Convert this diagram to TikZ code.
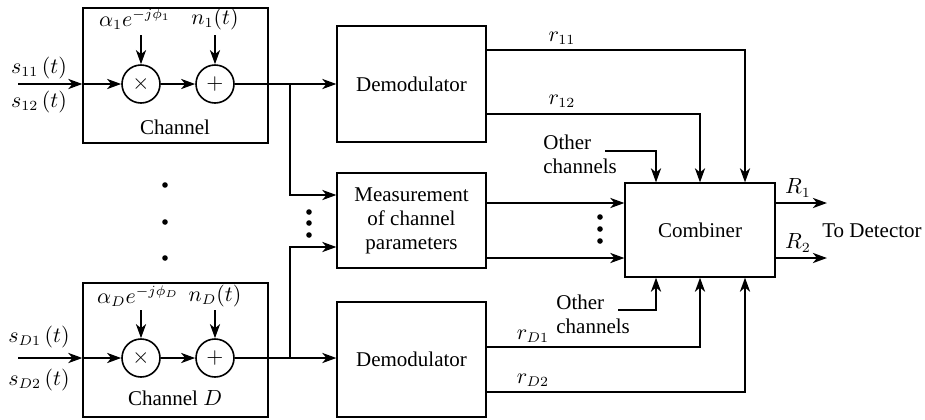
\documentclass[tikz,border=0pt]{standalone}
\usepackage{fontspec}
\setmainfont{Liberation Serif}
\usetikzlibrary{arrows.meta}
\begin{document}
\begin{tikzpicture}[x=0.5pt,y=-0.5pt,
  font=\fontsize{10.5}{12}\selectfont,
  blk/.style={draw, line width=0.6pt, inner sep=0pt, align=center},
  op/.style={draw, circle, line width=0.8pt, minimum size=19pt, inner sep=0pt},
  sig/.style={line width=1.4pt},
  arr/.style={sig, -{Stealth[length=7pt,width=5pt,inset=2pt]}},
  dot/.style={circle, fill, inner sep=0pt, minimum size=2.8pt},
  lbl/.style={inner sep=1pt}]
\useasboundingbox (0,0) rectangle (925,419);
% blocks
\node[blk, minimum width=92.5pt, minimum height=67.5pt] (ch1) at (175.5,75.5) {};
\node[blk, minimum width=92.5pt, minimum height=67pt] (chD) at (175.5,350) {};
\node[blk, minimum width=74.5pt, minimum height=58pt] (dem1) at (411.5,84) {Demodulator};
\node[blk, minimum width=74.5pt, minimum height=47.5pt] (meas) at (411.5,220.5) {Measurement\\of channel\\parameters};
\node[blk, minimum width=74.5pt, minimum height=57.5pt] (demD) at (411.5,359.5) {Demodulator};
\node[blk, minimum width=75pt, minimum height=47pt] (comb) at (700,230) {Combiner};
% operators
\node[op] (mul1) at (141,84) {$\times$};
\node[op] (add1) at (215,84) {$+$};
\node[op] (mulD) at (141,358) {$\times$};
\node[op] (addD) at (215,358) {$+$};
% texts
\node[lbl] (chlab1) at (175,127) {Channel};
\node[lbl] (chlabD) at (175,398) {Channel $D$};
\node[lbl] (s11) at (39,68) {$s_{11}\,(t)$};
\node[lbl] (s12) at (39,102) {$s_{12}\,(t)$};
\node[lbl] (sD1) at (39,337) {$s_{D1}\,(t)$};
\node[lbl] (sD2) at (39,380) {$s_{D2}\,(t)$};
\node[lbl] (a1) at (135,19) {$\alpha_1 e^{-j\phi_1}$};
\node[lbl] (n1) at (215,19) {$n_1(t)$};
\node[lbl] (aD) at (138,296) {$\alpha_D e^{-j\phi_D}$};
\node[lbl] (nD) at (215,296) {$n_D(t)$};
\node[lbl] (r11) at (562,38) {$r_{11}$};
\node[lbl] (r12) at (562,101) {$r_{12}$};
\node[lbl] (rD1) at (533,336) {$r_{D1}$};
\node[lbl] (rD2) at (533,380) {$r_{D2}$};
\node[lbl, align=left, anchor=north west] (oc1) at (541,133) {Other\\channels};
\node[lbl, align=left, anchor=north west] (oc2) at (554,293) {Other\\channels};
\node[lbl] (R1) at (798,188) {$R_1$};
\node[lbl] (R2) at (798,243) {$R_2$};
\node[lbl] (todet) at (872,231) {To Detector};
% coordinates
\coordinate (in1) at (18,84);
\coordinate (inD) at (18,358);
\coordinate (j1) at (290,84);
\coordinate (jD) at (290,358);
\coordinate (m1) at (290,195);
\coordinate (mD) at (290,247);
\coordinate (a1s) at (141,35);
\coordinate (n1s) at (215,35);
\coordinate (aDs) at (141,310);
\coordinate (nDs) at (215,310);
\coordinate (oc1s) at (605,151);
\coordinate (oc2s) at (618,310);
\coordinate (o1) at (827,203);
\coordinate (o2) at (827,258);
% channel 1
\draw[arr] (in1) -- (ch1.west |- in1);
\draw[arr] (ch1.west |- in1) -- (mul1);
\draw[arr] (mul1) -- (add1);
\draw[arr] (a1s) -- (mul1);
\draw[arr] (n1s) -- (add1);
\draw[sig] (add1) -- (j1);
\draw[arr] (j1) -- (dem1.west |- j1);
\draw[arr] (j1) -- (m1) -- (meas.west |- m1);
% channel D
\draw[arr] (inD) -- (chD.west |- inD);
\draw[arr] (chD.west |- inD) -- (mulD);
\draw[arr] (mulD) -- (addD);
\draw[arr] (aDs) -- (mulD);
\draw[arr] (nDs) -- (addD);
\draw[sig] (addD) -- (jD);
\draw[arr] (jD) -- (demD.west |- jD);
\draw[arr] (jD) -- (mD) -- (meas.west |- mD);
% demod outputs
\draw[arr] (dem1.east |- 0,50) -- (745,50) -- (comb.north -| 745,0);
\draw[arr] (dem1.east |- 0,114) -- (700,114) -- (comb.north -| 700,0);
\draw[arr] (demD.east |- 0,347) -- (700,347) -- (comb.south -| 700,0);
\draw[arr] (demD.east |- 0,392) -- (745,392) -- (comb.south -| 745,0);
% other channels
\draw[arr] (oc1s) -- (656,151) -- (comb.north -| 656,0);
\draw[arr] (oc2s) -- (656,310) -- (comb.south -| 656,0);
% measurement outputs
\draw[arr] (meas.east |- 0,203) -- (comb.west |- 0,203);
\draw[arr] (meas.east |- 0,258) -- (comb.west |- 0,258);
% combiner outputs
\draw[arr] (comb.east |- o1) -- (o1);
\draw[arr] (comb.east |- o2) -- (o2);
% dots
\foreach \y/\n in {185/a,222/b,258/c} \node[dot] (vd\n) at (165,\y) {};
\foreach \y/\n in {212/a,223/b,235/c} \node[dot] (ld\n) at (309,\y) {};
\foreach \y/\n in {217/a,229/b,241/c} \node[dot] (rd\n) at (600,\y) {};
\end{tikzpicture}
\end{document}
